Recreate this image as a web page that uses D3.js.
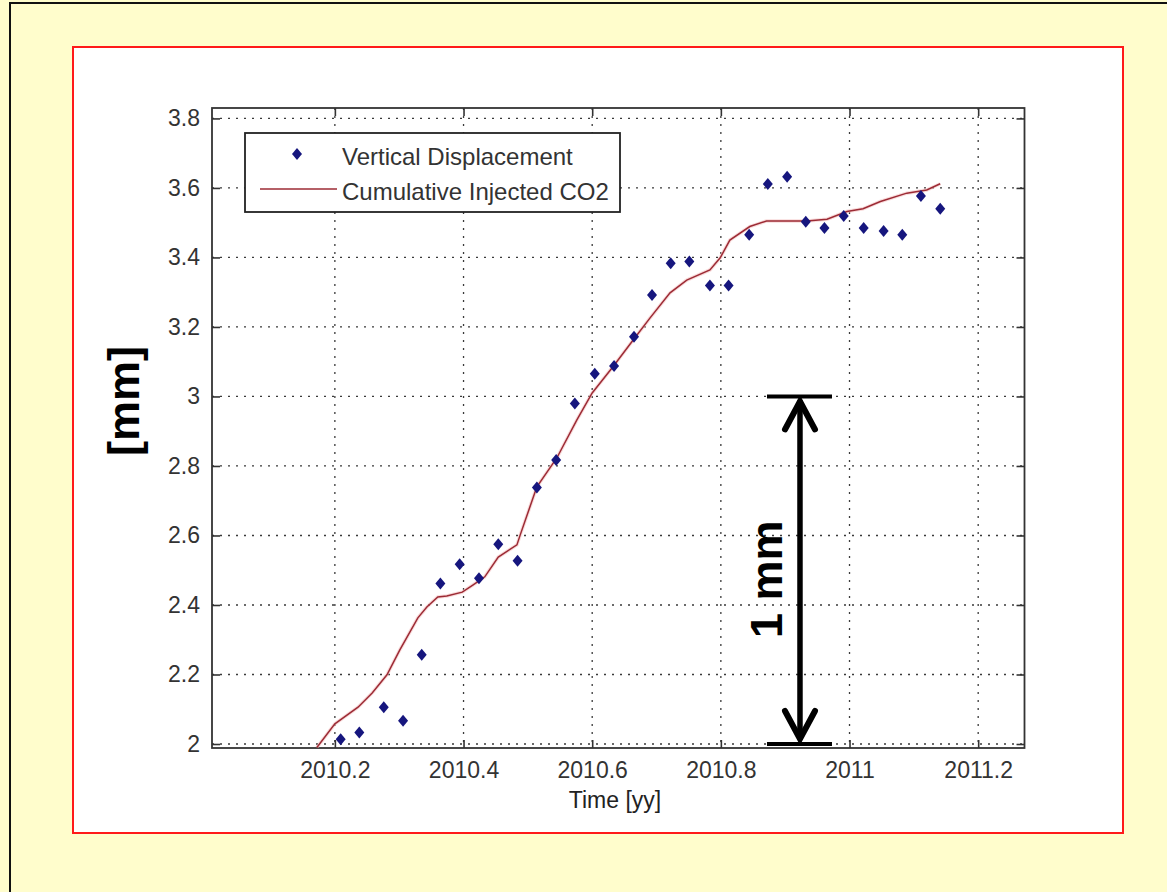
<!DOCTYPE html>
<html>
<head>
<meta charset="utf-8">
<script src="https://cdn.jsdelivr.net/npm/d3@7"></script>
<style>
  html, body { margin: 0; padding: 0; background: #ffffff; }
  svg { display: block; }
  text { font-family: "Liberation Sans", Arial, Helvetica, sans-serif; }
</style>
</head>
<body>
<svg id="chart" width="1167" height="892"></svg>
<script>
// Measured vertical displacement (mm) at each survey epoch (decimal years)
const dispTime = [2010.209, 2010.238, 2010.276, 2010.306, 2010.335, 2010.364, 2010.394, 2010.424,
                  2010.454, 2010.484, 2010.514, 2010.544, 2010.573, 2010.604, 2010.634, 2010.665,
                  2010.693, 2010.722, 2010.751, 2010.783, 2010.812, 2010.844, 2010.873, 2010.903,
                  2010.932, 2010.961, 2010.991, 2011.022, 2011.053, 2011.082, 2011.111, 2011.141];
const dispValue = [2.014, 2.033, 2.106, 2.067, 2.257, 2.462, 2.517, 2.477,
                   2.575, 2.527, 2.738, 2.817, 2.980, 3.065, 3.088, 3.172,
                   3.292, 3.383, 3.388, 3.319, 3.319, 3.465, 3.611, 3.632,
                   3.503, 3.485, 3.519, 3.485, 3.476, 3.465, 3.577, 3.540];

// Cumulative injected CO2, scaled to displacement units
const co2Time = [2010.172, 2010.200, 2010.236, 2010.258, 2010.281, 2010.301, 2010.329, 2010.343,
                 2010.360, 2010.374, 2010.398, 2010.415, 2010.433, 2010.454, 2010.483, 2010.488,
                 2010.514, 2010.545, 2010.576, 2010.600, 2010.632, 2010.664, 2010.690, 2010.721,
                 2010.747, 2010.783, 2010.799, 2010.814, 2010.845, 2010.871, 2010.934, 2010.965,
                 2010.996, 2011.021, 2011.048, 2011.089, 2011.120, 2011.141];
const co2Value = [1.990, 2.058, 2.106, 2.147, 2.199, 2.271, 2.363, 2.394,
                  2.423, 2.426, 2.437, 2.458, 2.481, 2.538, 2.573, 2.601,
                  2.740, 2.823, 2.932, 3.010, 3.085, 3.163, 3.226, 3.298,
                  3.335, 3.364, 3.399, 3.450, 3.489, 3.505, 3.505, 3.510,
                  3.532, 3.540, 3.561, 3.585, 3.594, 3.612];

// Axis limits and tick values
const xLimits = [2010.009, 2011.272];
const yLimits = [1.9885, 3.830];
const xTicks = [2010.2, 2010.4, 2010.6, 2010.8, 2011.0, 2011.2];
const xTickLabels = ["2010.2", "2010.4", "2010.6", "2010.8", "2011", "2011.2"];
const yTicks = [2.0, 2.2, 2.4, 2.6, 2.8, 3.0, 3.2, 3.4, 3.6, 3.8];
const yTickLabels = ["2", "2.2", "2.4", "2.6", "2.8", "3", "3.2", "3.4", "3.6", "3.8"];

// Scale-bar annotation: a 1 mm span drawn between two displacement levels
const scaleBarRange = [2.0, 3.0];
const scaleBarTime = 2010.923;
const scaleBarLabel = "1 mm";

const legendLabels = ["Vertical Displacement", "Cumulative Injected CO2"];

const svg = d3.select("#chart");

// Page background and panels
svg.append("rect").attr("x", 0).attr("y", 0).attr("width", 1167).attr("height", 892)
  .attr("fill", "#fffdcc");
svg.append("rect").attr("x", 10).attr("y", 3).attr("width", 1170).attr("height", 900)
  .attr("fill", "none").attr("stroke", "#111").attr("stroke-width", 2);
svg.append("rect").attr("x", 73).attr("y", 47).attr("width", 1050).attr("height", 786)
  .attr("fill", "#ffffff").attr("stroke", "#ff1a1a").attr("stroke-width", 2);

// Plot frame
const frame = { left: 212, right: 1024.5, top: 108, bottom: 748 };

const x = d3.scaleLinear().domain(xLimits).range([frame.left, frame.right]);
const y = d3.scaleLinear().domain(yLimits).range([frame.bottom, frame.top]);

const plot = svg.append("g");

// Dotted grid
const gridColor = "#3a3a3a";
plot.append("g").selectAll("line").data(yTicks).join("line")
  .attr("x1", frame.left).attr("x2", frame.right)
  .attr("y1", d => y(d)).attr("y2", d => y(d))
  .attr("stroke", gridColor).attr("stroke-width", 1.3)
  .attr("stroke-dasharray", "2,6");
plot.append("g").selectAll("line").data(xTicks).join("line")
  .attr("y1", frame.top).attr("y2", frame.bottom)
  .attr("x1", d => x(d)).attr("x2", d => x(d))
  .attr("stroke", gridColor).attr("stroke-width", 1.3)
  .attr("stroke-dasharray", "2,6");

// Axes with inward ticks on all four sides
const tickLen = 8;
const axisLeft = d3.axisLeft(y).tickValues(yTicks).tickSizeInner(-tickLen).tickSizeOuter(0)
  .tickPadding(12).tickFormat((d, i) => yTickLabels[i]);
const axisRight = d3.axisRight(y).tickValues(yTicks).tickSizeInner(-tickLen).tickSizeOuter(0)
  .tickFormat("");
const axisBottom = d3.axisBottom(x).tickValues(xTicks).tickSizeInner(-tickLen).tickSizeOuter(0)
  .tickPadding(14).tickFormat((d, i) => xTickLabels[i]);
const axisTop = d3.axisTop(x).tickValues(xTicks).tickSizeInner(-tickLen).tickSizeOuter(0)
  .tickFormat("");

function styleAxis(g) {
  g.select(".domain").remove();
  g.selectAll(".tick line").attr("stroke", "#333").attr("stroke-width", 1.6);
  g.selectAll(".tick text").attr("fill", "#333").attr("font-size", 23)
    .style("font-family", "'Liberation Sans', Arial, sans-serif");
}

plot.append("g").attr("transform", `translate(${frame.left},0)`).call(axisLeft).call(styleAxis);
plot.append("g").attr("transform", `translate(${frame.right},0)`).call(axisRight).call(styleAxis);
plot.append("g").attr("transform", `translate(0,${frame.bottom})`).call(axisBottom).call(styleAxis);
plot.append("g").attr("transform", `translate(0,${frame.top})`).call(axisTop).call(styleAxis);

// Box outline
plot.append("rect")
  .attr("x", frame.left).attr("y", frame.top)
  .attr("width", frame.right - frame.left).attr("height", frame.bottom - frame.top)
  .attr("fill", "none").attr("stroke", "#333").attr("stroke-width", 1.8);

// Clip data to the frame
svg.append("defs").append("clipPath").attr("id", "plotClip")
  .append("rect").attr("x", frame.left).attr("y", frame.top)
  .attr("width", frame.right - frame.left).attr("height", frame.bottom - frame.top);

const dataG = plot.append("g").attr("clip-path", "url(#plotClip)");

// CO2 curve
const co2 = co2Time.map((t, i) => [t, co2Value[i]]);
const line = d3.line().x(d => x(d[0])).y(d => y(d[1]));
dataG.append("path").datum(co2)
  .attr("d", line).attr("fill", "none")
  .attr("stroke", "#f4b8b8").attr("stroke-width", 3.5).attr("opacity", 0.5);
dataG.append("path").datum(co2)
  .attr("d", line).attr("fill", "none")
  .attr("stroke", "#9c2b35").attr("stroke-width", 1.5);

// Displacement markers
const diamond = "M0,-6L5,0L0,6L-5,0Z";
const disp = dispTime.map((t, i) => [t, dispValue[i]]);
dataG.append("g").selectAll("path").data(disp).join("path")
  .attr("d", diamond)
  .attr("transform", d => `translate(${x(d[0])},${y(d[1])})`)
  .attr("fill", "#16167e");

// Legend
const legend = svg.append("g");
legend.append("rect").attr("x", 245).attr("y", 133).attr("width", 375).attr("height", 79)
  .attr("fill", "#ffffff").attr("stroke", "#222").attr("stroke-width", 1.8);
legend.append("path").attr("d", diamond)
  .attr("transform", "translate(297,154)").attr("fill", "#16167e");
legend.append("line").attr("x1", 260).attr("x2", 337).attr("y1", 189).attr("y2", 189)
  .attr("stroke", "#9c2b35").attr("stroke-width", 1.5);
legend.selectAll("text").data(legendLabels).join("text")
  .attr("x", 342).attr("y", (d, i) => 165 + i * 35)
  .attr("font-size", 24).attr("fill", "#333")
  .text(d => d);

// Axis labels
svg.append("text").attr("x", 615).attr("y", 808)
  .attr("text-anchor", "middle").attr("font-size", 23).attr("fill", "#222")
  .text("Time [yy]");
svg.append("text")
  .attr("transform", "translate(139,401) rotate(-90)")
  .attr("text-anchor", "middle").attr("font-size", 45).attr("font-weight", "bold")
  .attr("fill", "#000")
  .text("[mm]");

// 1 mm scale bar
const sb = svg.append("g").attr("stroke", "#000").attr("fill", "none");
const sx = x(scaleBarTime);
const yTop = y(scaleBarRange[1]);
const yBot = y(scaleBarRange[0]);
sb.append("line").attr("x1", sx - 33).attr("x2", sx + 32).attr("y1", yTop).attr("y2", yTop)
  .attr("stroke-width", 4);
sb.append("line").attr("x1", sx - 33).attr("x2", sx + 32).attr("y1", yBot).attr("y2", yBot)
  .attr("stroke-width", 4);
sb.append("line").attr("x1", sx).attr("x2", sx).attr("y1", yTop + 4).attr("y2", yBot - 4)
  .attr("stroke-width", 5.5);
sb.append("path")
  .attr("d", `M${sx - 15},${yTop + 33}L${sx},${yTop + 5}L${sx + 15},${yTop + 33}`)
  .attr("stroke-width", 6).attr("stroke-linecap", "round").attr("stroke-linejoin", "miter");
sb.append("path")
  .attr("d", `M${sx - 15},${yBot - 33}L${sx},${yBot - 5}L${sx + 15},${yBot - 33}`)
  .attr("stroke-width", 6).attr("stroke-linecap", "round").attr("stroke-linejoin", "miter");
svg.append("text")
  .attr("transform", `translate(${sx - 18},${(yTop + yBot) / 2 + 9}) rotate(-90)`)
  .attr("text-anchor", "middle").attr("font-size", 45).attr("font-weight", "bold")
  .attr("fill", "#000")
  .text(scaleBarLabel);
</script>
</body>
</html>
